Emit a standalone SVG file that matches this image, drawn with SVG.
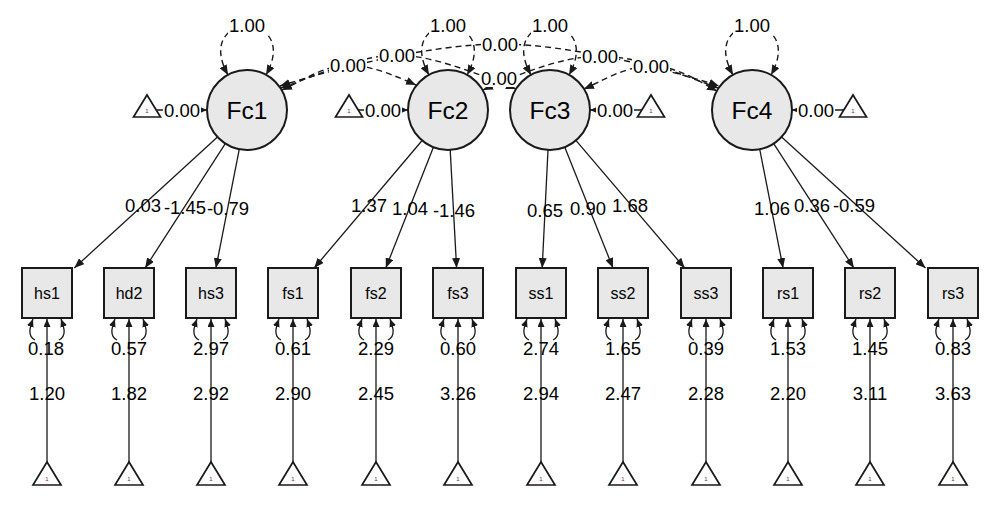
<svg xmlns="http://www.w3.org/2000/svg" width="1000" height="516" viewBox="0 0 1000 516">
<style>
.lat{fill:#e8e8e8;stroke:#1a1a1a;stroke-width:2}
.man{fill:#e8e8e8;stroke:#1a1a1a;stroke-width:2}
.tri{fill:#fff;stroke:#1a1a1a;stroke-width:1.7;stroke-linejoin:miter}
.one{font-family:"Liberation Sans",Arial,sans-serif;font-size:6px;fill:#8a2050;text-anchor:middle}
.ln{fill:none;stroke:#1a1a1a;stroke-width:1.3}
.dl{fill:none;stroke:#1a1a1a;stroke-width:1.4;stroke-dasharray:6 4}
.lt{font-family:"Liberation Sans",Arial,sans-serif;font-size:24.5px;fill:#000;text-anchor:middle}
.mt{font-family:"Liberation Sans",Arial,sans-serif;font-size:16px;fill:#000;text-anchor:middle}
.el{font-family:"Liberation Sans",Arial,sans-serif;font-size:18.5px;fill:#000;text-anchor:middle}
.bg{fill:#fff}
</style>
<defs>
<marker id="ah" viewBox="0 0 10 8" refX="10" refY="4" markerWidth="10" markerHeight="8" markerUnits="userSpaceOnUse" orient="auto-start-reverse"><path d="M0,0 L10,4 L0,8 z" fill="#1a1a1a"/></marker>
<marker id="ahs" viewBox="0 0 8 7" refX="8" refY="3.5" markerWidth="8" markerHeight="7" markerUnits="userSpaceOnUse" orient="auto-start-reverse"><path d="M0,0 L8,3.5 L0,7 z" fill="#1a1a1a"/></marker>
</defs>

<g id="connectors">
  <!-- latent variances -->
  <path class="dl" d="M228,75 C192,10 302,10 266,75" marker-start="url(#ah)" marker-end="url(#ah)"/>
  <path class="dl" d="M429,75 C393,10 503,10 467,75" marker-start="url(#ah)" marker-end="url(#ah)"/>
  <path class="dl" d="M531,75 C495,10 605,10 569,75" marker-start="url(#ah)" marker-end="url(#ah)"/>
  <path class="dl" d="M733,75 C697,10 807,10 771,75" marker-start="url(#ah)" marker-end="url(#ah)"/>
  <!-- covariances -->
  <path class="dl" d="M282,90 C300,82 325,65 348,65 S398,77 416,85" marker-start="url(#ah)" marker-end="url(#ah)"/>
  <path class="dl" d="M281,88 C310,78 360,55 397,55 S488,78 516,89" marker-start="url(#ah)" marker-end="url(#ah)"/>
  <path class="dl" d="M280,86 C330,70 430,44 500,44 S670,70 719,86" marker-start="url(#ah)" marker-end="url(#ah)"/>
  <path class="dl" d="M480,84 Q499,72 518,84" marker-start="url(#ah)" marker-end="url(#ah)"/>
  <path class="dl" d="M483,90 C510,78 560,56 600,56 S690,78 718,88" marker-start="url(#ah)" marker-end="url(#ah)"/>
  <path class="dl" d="M584,89 C600,82 625,66 651,66 S700,82 717,91" marker-start="url(#ah)" marker-end="url(#ah)"/>
  <!-- latent means -->
  <path class="ln" d="M157,110 L207,110" marker-end="url(#ahs)"/>
  <path class="ln" d="M358,110 L408,110" marker-end="url(#ahs)"/>
  <path class="ln" d="M642,110 L590,110" marker-end="url(#ahs)"/>
  <path class="ln" d="M844,110 L792,110" marker-end="url(#ahs)"/>
  <!-- loadings -->
  <path class="ln" d="M217.5,137 L74.3,268" marker-end="url(#ah)"/>
  <path class="ln" d="M225.3,143.6 L145.1,268" marker-end="url(#ah)"/>
  <path class="ln" d="M239.3,149.2 L215.9,268" marker-end="url(#ah)"/>
  <path class="ln" d="M422.1,140.5 L314.2,268" marker-end="url(#ah)"/>
  <path class="ln" d="M433.4,147.2 L385.8,268" marker-end="url(#ah)"/>
  <path class="ln" d="M450.2,149.9 L456.6,268" marker-end="url(#ah)"/>
  <path class="ln" d="M548,150 L542.2,268" marker-end="url(#ah)"/>
  <path class="ln" d="M564.8,147.2 L613,268" marker-end="url(#ah)"/>
  <path class="ln" d="M575.9,140.4 L684.7,268" marker-end="url(#ah)"/>
  <path class="ln" d="M759.7,149.2 L783.1,268" marker-end="url(#ah)"/>
  <path class="ln" d="M773.7,143.6 L853.9,268" marker-end="url(#ah)"/>
  <path class="ln" d="M781.6,136.9 L925.5,268" marker-end="url(#ah)"/>
  <!-- residual variances -->
  <path class="ln" d="M33,319 C30,327 27,336 35,340 M59,340 C67,336 64,327 61,319" marker-start="url(#ahs)" marker-end="url(#ahs)"/>
  <path class="ln" d="M115,319 C112,327 109,336 117,340 M141,340 C149,336 146,327 143,319" marker-start="url(#ahs)" marker-end="url(#ahs)"/>
  <path class="ln" d="M197,319 C194,327 191,336 199,340 M223,340 C231,336 228,327 225,319" marker-start="url(#ahs)" marker-end="url(#ahs)"/>
  <path class="ln" d="M279,319 C276,327 273,336 281,340 M305,340 C313,336 310,327 307,319" marker-start="url(#ahs)" marker-end="url(#ahs)"/>
  <path class="ln" d="M362,319 C359,327 356,336 364,340 M388,340 C396,336 393,327 390,319" marker-start="url(#ahs)" marker-end="url(#ahs)"/>
  <path class="ln" d="M444,319 C441,327 438,336 446,340 M470,340 C478,336 475,327 472,319" marker-start="url(#ahs)" marker-end="url(#ahs)"/>
  <path class="ln" d="M527,319 C524,327 521,336 529,340 M553,340 C561,336 558,327 555,319" marker-start="url(#ahs)" marker-end="url(#ahs)"/>
  <path class="ln" d="M609,319 C606,327 603,336 611,340 M635,340 C643,336 640,327 637,319" marker-start="url(#ahs)" marker-end="url(#ahs)"/>
  <path class="ln" d="M692,319 C689,327 686,336 694,340 M718,340 C726,336 723,327 720,319" marker-start="url(#ahs)" marker-end="url(#ahs)"/>
  <path class="ln" d="M774,319 C771,327 768,336 776,340 M800,340 C808,336 805,327 802,319" marker-start="url(#ahs)" marker-end="url(#ahs)"/>
  <path class="ln" d="M856,319 C853,327 850,336 858,340 M882,340 C890,336 887,327 884,319" marker-start="url(#ahs)" marker-end="url(#ahs)"/>
  <path class="ln" d="M939,319 C936,327 933,336 941,340 M965,340 C973,336 970,327 967,319" marker-start="url(#ahs)" marker-end="url(#ahs)"/>
  <!-- intercepts -->
  <path class="ln" d="M47,462 L47,319" marker-end="url(#ahs)"/>
  <path class="ln" d="M129,462 L129,319" marker-end="url(#ahs)"/>
  <path class="ln" d="M211,462 L211,319" marker-end="url(#ahs)"/>
  <path class="ln" d="M293,462 L293,319" marker-end="url(#ahs)"/>
  <path class="ln" d="M376,462 L376,319" marker-end="url(#ahs)"/>
  <path class="ln" d="M458,462 L458,319" marker-end="url(#ahs)"/>
  <path class="ln" d="M541,462 L541,319" marker-end="url(#ahs)"/>
  <path class="ln" d="M623,462 L623,319" marker-end="url(#ahs)"/>
  <path class="ln" d="M706,462 L706,319" marker-end="url(#ahs)"/>
  <path class="ln" d="M788,462 L788,319" marker-end="url(#ahs)"/>
  <path class="ln" d="M870,462 L870,319" marker-end="url(#ahs)"/>
  <path class="ln" d="M953,462 L953,319" marker-end="url(#ahs)"/>
</g>

<g id="edge-labels">
  <g>
    <rect class="bg" x="228" y="16" width="38" height="18"/><text class="el" x="247" y="31.5">1.00</text>
    <rect class="bg" x="429" y="16" width="38" height="18"/><text class="el" x="448" y="31.5">1.00</text>
    <rect class="bg" x="531" y="16" width="38" height="18"/><text class="el" x="550" y="31.5">1.00</text>
    <rect class="bg" x="733" y="16" width="38" height="18"/><text class="el" x="752" y="31.5">1.00</text>
  </g>
  <g>
    <rect class="bg" x="329" y="57" width="38" height="17"/><text class="el" x="348" y="71.5">0.00</text>
    <rect class="bg" x="378" y="47" width="38" height="17"/><text class="el" x="397" y="61.5">0.00</text>
    <rect class="bg" x="481" y="36" width="38" height="17"/><text class="el" x="500" y="50.5">0.00</text>
    <rect class="bg" x="480" y="70" width="38" height="17"/><text class="el" x="499" y="84.5">0.00</text>
    <rect class="bg" x="581" y="48" width="38" height="17"/><text class="el" x="600" y="62.5">0.00</text>
    <rect class="bg" x="632" y="58" width="38" height="17"/><text class="el" x="651" y="72.5">0.00</text>
  </g>
  <g>
    <rect class="bg" x="163" y="102" width="38" height="17"/><text class="el" x="182" y="116.5">0.00</text>
    <rect class="bg" x="364" y="102" width="38" height="17"/><text class="el" x="383" y="116.5">0.00</text>
    <rect class="bg" x="596" y="102" width="38" height="17"/><text class="el" x="615" y="116.5">0.00</text>
    <rect class="bg" x="797" y="102" width="38" height="17"/><text class="el" x="816" y="116.5">0.00</text>
  </g>
  <g>
    <text class="el" x="143" y="211.5">0.03</text>
    <text class="el" x="185" y="213.5">-1.45</text>
    <text class="el" x="228" y="215">-0.79</text>
    <text class="el" x="369" y="211.5">1.37</text>
    <text class="el" x="410" y="214.5">1.04</text>
    <text class="el" x="454" y="216.5">-1.46</text>
    <text class="el" x="545" y="216.5">0.65</text>
    <text class="el" x="588" y="214.5">0.90</text>
    <text class="el" x="630" y="211.5">1.68</text>
    <text class="el" x="772" y="214.5">1.06</text>
    <text class="el" x="812" y="212">0.36</text>
    <text class="el" x="854" y="212">-0.59</text>
  </g>
  <g>
    <text class="el" x="46" y="354.5">0.18</text>
    <text class="el" x="129" y="354.5">0.57</text>
    <text class="el" x="211" y="354.5">2.97</text>
    <text class="el" x="293" y="354.5">0.61</text>
    <text class="el" x="376" y="354.5">2.29</text>
    <text class="el" x="458" y="354.5">0.60</text>
    <text class="el" x="541" y="354.5">2.74</text>
    <text class="el" x="623" y="354.5">1.65</text>
    <text class="el" x="706" y="354.5">0.39</text>
    <text class="el" x="788" y="354.5">1.53</text>
    <text class="el" x="870" y="354.5">1.45</text>
    <text class="el" x="953" y="354.5">0.83</text>
  </g>
  <g>
    <text class="el" x="47" y="399.5">1.20</text>
    <text class="el" x="129" y="399.5">1.82</text>
    <text class="el" x="211" y="399.5">2.92</text>
    <text class="el" x="293" y="399.5">2.90</text>
    <text class="el" x="376" y="399.5">2.45</text>
    <text class="el" x="458" y="399.5">3.26</text>
    <text class="el" x="541" y="399.5">2.94</text>
    <text class="el" x="623" y="399.5">2.47</text>
    <text class="el" x="706" y="399.5">2.28</text>
    <text class="el" x="788" y="399.5">2.20</text>
    <text class="el" x="870" y="399.5">3.11</text>
    <text class="el" x="953" y="399.5">3.63</text>
  </g>
</g>

<g id="Fc1"><circle class="lat" cx="247" cy="110" r="40"/><text class="lt" x="247" y="119">Fc1</text></g>
<g id="Fc2"><circle class="lat" cx="448" cy="110" r="40"/><text class="lt" x="448" y="119">Fc2</text></g>
<g id="Fc3"><circle class="lat" cx="550" cy="110" r="40"/><text class="lt" x="550" y="119">Fc3</text></g>
<g id="Fc4"><circle class="lat" cx="752" cy="110" r="40"/><text class="lt" x="752" y="119">Fc4</text></g>

<g id="mean-Fc1"><polygon class="tri" points="133.5,117 147,95 160.5,117"/><text class="one" x="147" y="113">1</text></g>
<g id="mean-Fc2"><polygon class="tri" points="335.5,117 349,95 362.5,117"/><text class="one" x="349" y="113">1</text></g>
<g id="mean-Fc3"><polygon class="tri" points="637.5,117 651,95 664.5,117"/><text class="one" x="651" y="113">1</text></g>
<g id="mean-Fc4"><polygon class="tri" points="839.5,117 853,95 866.5,117"/><text class="one" x="853" y="113">1</text></g>

<g id="hs1"><rect class="man" x="22" y="268" width="50" height="50"/><text class="mt" x="47" y="298.5">hs1</text></g>
<g id="hd2"><rect class="man" x="104" y="268" width="50" height="50"/><text class="mt" x="129" y="298.5">hd2</text></g>
<g id="hs3"><rect class="man" x="186" y="268" width="50" height="50"/><text class="mt" x="211" y="298.5">hs3</text></g>
<g id="fs1"><rect class="man" x="268" y="268" width="50" height="50"/><text class="mt" x="293" y="298.5">fs1</text></g>
<g id="fs2"><rect class="man" x="351" y="268" width="50" height="50"/><text class="mt" x="376" y="298.5">fs2</text></g>
<g id="fs3"><rect class="man" x="433" y="268" width="50" height="50"/><text class="mt" x="458" y="298.5">fs3</text></g>
<g id="ss1"><rect class="man" x="516" y="268" width="50" height="50"/><text class="mt" x="541" y="298.5">ss1</text></g>
<g id="ss2"><rect class="man" x="598" y="268" width="50" height="50"/><text class="mt" x="623" y="298.5">ss2</text></g>
<g id="ss3"><rect class="man" x="681" y="268" width="50" height="50"/><text class="mt" x="706" y="298.5">ss3</text></g>
<g id="rs1"><rect class="man" x="763" y="268" width="50" height="50"/><text class="mt" x="788" y="298.5">rs1</text></g>
<g id="rs2"><rect class="man" x="845" y="268" width="50" height="50"/><text class="mt" x="870" y="298.5">rs2</text></g>
<g id="rs3"><rect class="man" x="928" y="268" width="50" height="50"/><text class="mt" x="953" y="298.5">rs3</text></g>

<g id="int-hs1"><polygon class="tri" points="33,485 47,462 61,485"/><text class="one" x="47" y="481">1</text></g>
<g id="int-hd2"><polygon class="tri" points="115,485 129,462 143,485"/><text class="one" x="129" y="481">1</text></g>
<g id="int-hs3"><polygon class="tri" points="197,485 211,462 225,485"/><text class="one" x="211" y="481">1</text></g>
<g id="int-fs1"><polygon class="tri" points="279,485 293,462 307,485"/><text class="one" x="293" y="481">1</text></g>
<g id="int-fs2"><polygon class="tri" points="362,485 376,462 390,485"/><text class="one" x="376" y="481">1</text></g>
<g id="int-fs3"><polygon class="tri" points="444,485 458,462 472,485"/><text class="one" x="458" y="481">1</text></g>
<g id="int-ss1"><polygon class="tri" points="527,485 541,462 555,485"/><text class="one" x="541" y="481">1</text></g>
<g id="int-ss2"><polygon class="tri" points="609,485 623,462 637,485"/><text class="one" x="623" y="481">1</text></g>
<g id="int-ss3"><polygon class="tri" points="692,485 706,462 720,485"/><text class="one" x="706" y="481">1</text></g>
<g id="int-rs1"><polygon class="tri" points="774,485 788,462 802,485"/><text class="one" x="788" y="481">1</text></g>
<g id="int-rs2"><polygon class="tri" points="856,485 870,462 884,485"/><text class="one" x="870" y="481">1</text></g>
<g id="int-rs3"><polygon class="tri" points="939,485 953,462 967,485"/><text class="one" x="953" y="481">1</text></g>
</svg>
